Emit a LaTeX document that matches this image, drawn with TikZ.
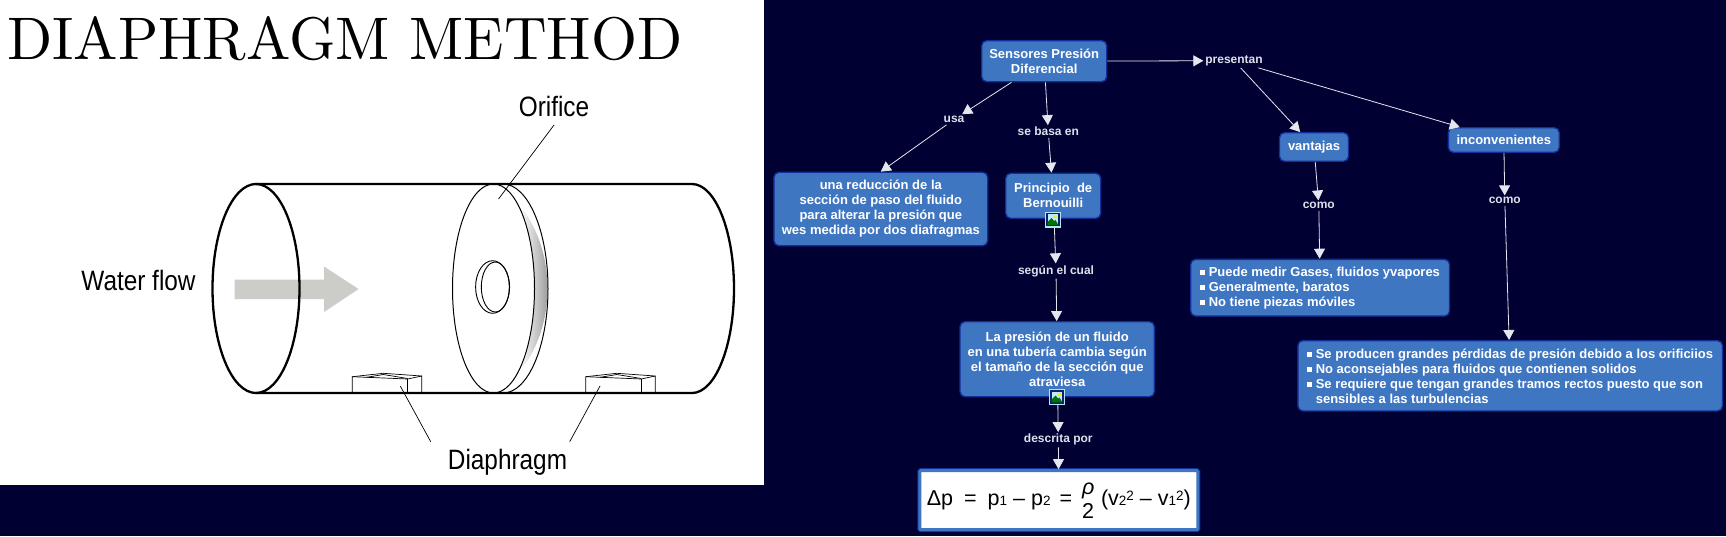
\documentclass[tikz,border=0pt]{standalone}
\usepackage{fontspec}
\usepackage{graphicx}
\setmainfont{Liberation Sans}
\newfontfamily\titlefont{Latin Modern Roman}
\usetikzlibrary{arrows.meta,calc}
\hyphenpenalty=10000
\exhyphenpenalty=10000
\definecolor{bgnavy}{HTML}{000033}
\definecolor{boxblue}{HTML}{3F76C2}
\definecolor{boxedge}{HTML}{12309A}
\definecolor{linkgrey}{HTML}{E4E8EE}
\definecolor{labgrey}{HTML}{DCE2EA}
\definecolor{arrowgrey}{HTML}{CCCDC9}
\newcommand{\sqb}{\rule[1pt]{5pt}{5pt}\hspace{3.5pt}}
\newcommand{\smallfig}[1]{{\fontsize{13.5}{13.5}\selectfont #1}}
\newcommand{\picicon}[1]{%
  \begin{scope}[shift={(#1)}]
    \fill[white!70!cyan] (-8,-8) rectangle (8,8);
    \fill[boxedge!70!black] (-6.8,-6.8) rectangle (6.8,6.8);
    \fill[white!75!cyan] (-5.4,-5.4) rectangle (5.4,5.4);
    \fill[green!45!black] (-5.4,5.4) -- (-5.4,2.5) -- (-1.5,-1.5) -- (1,1.5) -- (2.5,0.5) -- (5.4,5.4) -- cycle;
    \fill[yellow!90!orange] (2.3,-2.6) circle (1.7);
  \end{scope}}
\newcommand{\sensorbox}[1]{%
  \begin{scope}[shift={(#1)}]
    \draw[thinline,fill=white] (0,16.3) -- (0,0) -- (31,-3.4) -- (69.4,-0.7) -- (69.4,16.3);
    \draw[thinline] (0,0) -- (55.4,2.3) -- (69.4,-0.7);
    \draw[thinline] (55.4,2.3) -- (55.4,16.3);
    \draw[thinline] (14.4,0.6) -- (31,-2.2) -- (55.4,1.8);
  \end{scope}}
\tikzset{
  x=1pt,y=-1pt,
  concept/.style={draw=boxedge,line width=1.3pt,fill=boxblue,rounded corners=5pt,text=white,
    font=\fontsize{13}{15}\selectfont\bfseries,align=center,inner sep=0pt},
  linklab/.style={text=labgrey,font=\fontsize{12}{12}\selectfont\bfseries,inner sep=1pt,outer sep=1pt},
  link/.style={draw=linkgrey,line width=0.8pt,-{Triangle[width=11pt,length=10pt,fill=linkgrey]}},
  pipe/.style={line width=2.3pt,line cap=round,line join=round},
  thinline/.style={line width=0.7pt,black},
  disc/.style={line width=1pt,black},
  drawlabel/.style={text=black,font=\fontsize{28}{28}\selectfont,inner sep=0pt},
}
\begin{document}
\begin{tikzpicture}
\useasboundingbox (0,0) rectangle (1726,536);
\fill[bgnavy] (0,0) rectangle (1726,536);
\fill[white] (0,0) rectangle (763.5,485);

% --- left panel
\node[anchor=west,inner sep=0pt,text=black] (title) at (7,39)
  {\resizebox{675pt}{43pt}{\titlefont DIAPHRAGM METHOD}};
\node[drawlabel,xscale=0.87] (orifice) at (554,106) {Orifice};
\node[drawlabel,xscale=0.87] (water) at (138.5,280) {Water flow};
\node[drawlabel,xscale=0.87] (diaph) at (507.5,462) {Diaphragm};

% flow arrow
\fill[arrowgrey] (234.5,279.5) -- (324,279.5) -- (324,266.5) -- (358.5,289) -- (324,312) -- (324,299) -- (234.5,299) -- cycle;

% diaphragm boxes
\sensorbox{352.3,376.7}
\sensorbox{585.8,376.7}

% disk
\fill[white] (503,184) .. controls (527.9,184) and (548,230.8) .. (548,288.5) .. controls (548,346.2) and (527.9,393) .. (503,393) -- cycle;
\shade[left color=white,right color=black!38] (520,206) .. controls (538,228) and (547.5,258) .. (547.5,288.5) .. controls (547.5,319) and (538,349) .. (520,371) -- cycle;
\draw[disc] (503,184) .. controls (527.9,184) and (548,230.8) .. (548,288.5) .. controls (548,346.2) and (527.9,393) .. (503,393);
\draw[disc,fill=white] (493.5,288.5) ellipse[x radius=41,y radius=104.5];
\draw[thinline,line width=0.9pt,fill=white] (492.6,287) ellipse[x radius=17,y radius=26.3];
\draw[thinline,line width=0.9pt] (495.3,287) ellipse[x radius=14,y radius=25];

% pipe
\draw[pipe] (256,184) -- (692,184) .. controls (715.2,184) and (734,230.8) .. (734,288.5) .. controls (734,346.2) and (715.2,393) .. (692,393) -- (256,393);
\draw[pipe] (256,288.5) ellipse[x radius=43.5,y radius=104.5];

% leaders
\coordinate (orificeEnd) at (498.5,199);
\coordinate (diaL) at (400.3,386);
\coordinate (diaR) at (600,386);
\coordinate (diaLs) at (430.7,441.7);
\coordinate (diaRs) at (569.7,441.7);
\coordinate (oris) at (554,125);
\draw[thinline] (oris) -- (orificeEnd);
\draw[thinline] (diaLs) -- (diaL);
\draw[thinline] (diaRs) -- (diaR);

% --- concept map
\node[concept,minimum width=125pt,minimum height=41pt] (sens) at (1044.2,61.2) {Sensores Presión\\Diferencial};
\node[concept,minimum width=213.7pt,minimum height=73.4pt] (red) at (880.8,209) {una reducción de la\\sección de paso del fluido\\para alterar la presión que\\wes medida por dos diafragmas};
\node[concept,minimum width=95pt,minimum height=45pt] (bern) at (1053.2,195.8) {Principio\ \ de\\Bernouilli};
\node[concept,minimum width=194.3pt,minimum height=75pt] (pres) at (1057.2,359.2) {La presión de un fluido\\en una tubería cambia según\\el tamaño de la sección que\\atraviesa};
\node[concept,minimum width=69pt,minimum height=28.6pt] (vent) at (1314,147) {vantajas};
\node[concept,minimum width=110.9pt,minimum height=24.6pt] (inco) at (1503.8,140) {inconvenientes};
\node[concept,minimum width=258.8pt,minimum height=56.7pt,align=left] (vlist) at (1320.1,287.7)
  {\sqb Puede medir Gases, fluidos yvapores\\\sqb Generalmente, baratos\\\sqb No tiene piezas móviles};
\node[concept,minimum width=424.6pt,minimum height=70.3pt,align=left] (ilist) at (1510.2,375.8)
  {\sqb Se producen grandes pérdidas de presión debido a los orificiios\\\sqb No aconsejables para fluidos que contienen solidos\\\sqb Se requiere que tengan grandes tramos rectos puesto que son\\\hspace*{8.5pt}sensibles a las turbulencias};
\node[draw=boxblue,line width=3pt,fill=white,minimum width=278pt,minimum height=59pt,inner sep=0pt,text=black,
  font=\fontsize{21.5}{21.5}\selectfont,rounded corners=1pt,preaction={draw=boxedge,line width=5pt}] (form) at (1058.8,500.2)
  {Δp\hspace{11pt}=\hspace{11pt}p\smallfig{1}\hspace{6pt}–\hspace{6pt}p\smallfig{2}\hspace{9pt}=\hspace{10pt}\smash{\rlap{\raisebox{11.5pt}{\textit{ρ}}}\raisebox{-13pt}{2}}\hspace{7pt}(v\smallfig{2}\raisebox{5pt}{\smallfig{2}}\hspace{6pt}–\hspace{6pt}v\smallfig{1}\raisebox{5pt}{\smallfig{2}})};

\node[linklab] (usa) at (954,119.5) {usa};
\node[linklab] (basa) at (1048.3,131.5) {se basa en};
\node[linklab] (segun) at (1056,271) {según el cual};
\node[linklab] (desc) at (1058.3,439.7) {descrita por};
\node[linklab] (presn) at (1234,60.7) {presentan};
\node[linklab] (como1) at (1318.8,205.7) {como};
\node[linklab] (como2) at (1504.8,200.7) {como};

\draw[link] (sens) -- (usa);
\draw[link] (usa) -- (red.north);
\draw[link] (sens) -- (basa);
\draw[link] (basa) -- (bern);
\draw[link] (bern) -- (segun);
\draw[link] (segun) -- (pres);
\draw[link] (pres) -- (desc);
\draw[link] (desc) -- (form);
\draw[link] (sens) -- (presn);
\draw[link] (presn) -- (vent);
\draw[link] (presn) -- (inco);
\draw[link] (vent) -- (como1);
\draw[link] (como1) -- (vlist);
\draw[link] (inco) -- (como2);
\draw[link] (como2) -- (ilist);

\picicon{1053,219.5}
\picicon{1057,397}
\end{tikzpicture}
\end{document}
